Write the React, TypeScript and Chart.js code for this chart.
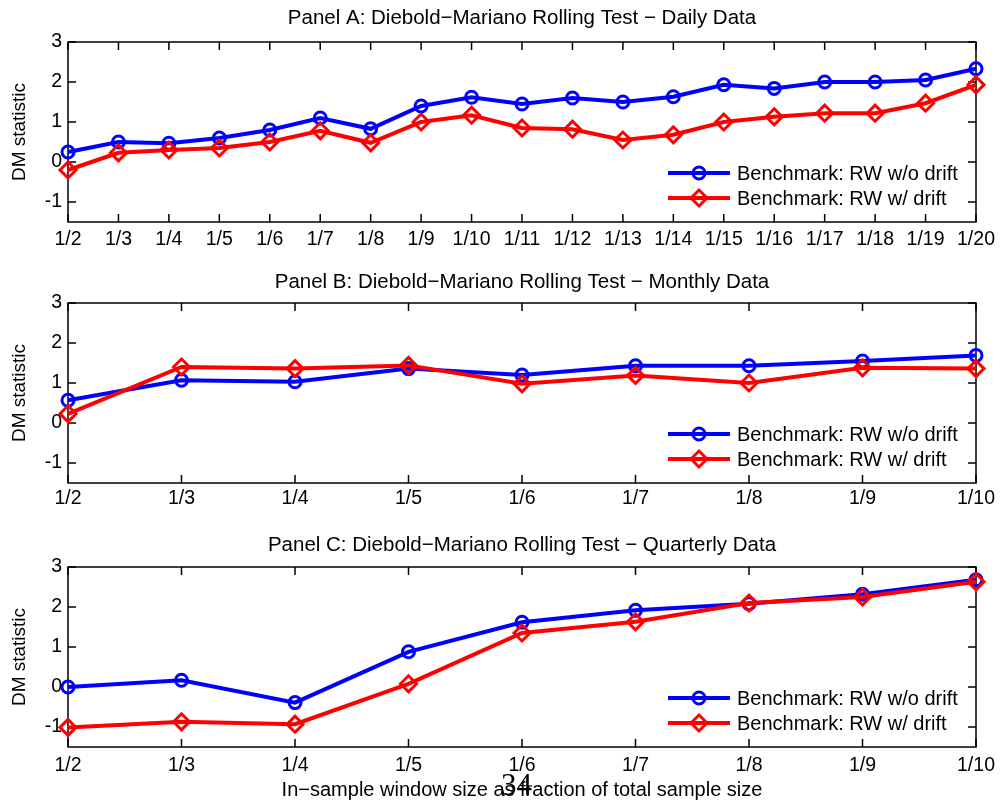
import { useEffect, useRef } from "react"
import { Chart, registerables } from "chart.js"

Chart.register(...registerables)

const FONT = '"Liberation Sans", Arial, Helvetica, sans-serif'
const TICK_LEN = 8

// x categories (in-sample window as fraction of the sample)
const dailyLabels = [
  "1/2", "1/3", "1/4", "1/5", "1/6", "1/7", "1/8", "1/9", "1/10", "1/11",
  "1/12", "1/13", "1/14", "1/15", "1/16", "1/17", "1/18", "1/19", "1/20",
]
const monthlyLabels = ["1/2", "1/3", "1/4", "1/5", "1/6", "1/7", "1/8", "1/9", "1/10"]
const quarterlyLabels = ["1/2", "1/3", "1/4", "1/5", "1/6", "1/7", "1/8", "1/9", "1/10"]

// DM statistics
const dailyNoDrift = [0.25, 0.5, 0.47, 0.6, 0.8, 1.1, 0.83, 1.4, 1.62, 1.45, 1.6, 1.5, 1.63, 1.93, 1.84, 2.0, 2.0, 2.05, 2.33]
const dailyDrift = [-0.2, 0.23, 0.3, 0.35, 0.5, 0.78, 0.48, 1.0, 1.17, 0.85, 0.82, 0.55, 0.68, 1.0, 1.13, 1.22, 1.22, 1.47, 1.93]
const monthlyNoDrift = [0.57, 1.07, 1.03, 1.36, 1.2, 1.43, 1.43, 1.55, 1.69]
const monthlyDrift = [0.23, 1.4, 1.36, 1.44, 0.98, 1.19, 1.0, 1.38, 1.36]
const quarterlyNoDrift = [0.0, 0.17, -0.39, 0.88, 1.62, 1.92, 2.08, 2.32, 2.68]
const quarterlyDrift = [-1.01, -0.87, -0.93, 0.08, 1.35, 1.63, 2.1, 2.25, 2.63]

const yTicks = [-1, 0, 1, 2, 3]
const seriesNames = ["Benchmark: RW w/o drift", "Benchmark: RW w/ drift"]

// MATLAB-style box with inward ticks on all four sides
const boxPlugin = {
  id: "matlabBox",
  beforeDatasetsDraw(chart: any) {
    const { ctx, chartArea: a, scales } = chart
    ctx.save()
    ctx.strokeStyle = "#000"
    ctx.lineWidth = 1.5
    ctx.strokeRect(a.left, a.top, a.right - a.left, a.bottom - a.top)
    ctx.beginPath()
    scales.x.ticks.forEach((_: any, i: number) => {
      const px = scales.x.getPixelForTick(i)
      ctx.moveTo(px, a.bottom)
      ctx.lineTo(px, a.bottom - TICK_LEN)
      ctx.moveTo(px, a.top)
      ctx.lineTo(px, a.top + TICK_LEN)
    })
    scales.y.ticks.forEach((t: any) => {
      const py = scales.y.getPixelForValue(t.value)
      ctx.moveTo(a.left, py)
      ctx.lineTo(a.left + TICK_LEN, py)
      ctx.moveTo(a.right, py)
      ctx.lineTo(a.right - TICK_LEN, py)
    })
    ctx.stroke()
    ctx.restore()
  },
}

// title centred over the axes box (not the whole canvas)
const titlePlugin = {
  id: "axesTitle",
  afterDraw(chart: any, _args: any, opts: any) {
    const { ctx, chartArea: a } = chart
    ctx.save()
    ctx.fillStyle = "#000"
    ctx.font = `20.5px ${FONT}`
    ctx.textAlign = "center"
    ctx.textBaseline = "middle"
    ctx.fillText(opts.text, (a.left + a.right) / 2, a.top - opts.offset)
    ctx.restore()
  },
}

// legend in the lower right corner of the axes
const legendPlugin = {
  id: "insideLegend",
  afterDatasetsDraw(chart: any) {
    const { ctx, chartArea: a } = chart
    ctx.save()
    chart.data.datasets.forEach((ds: any, i: number) => {
      const y = a.bottom - 49 + i * 25
      const x0 = a.right - 308
      const x1 = a.right - 246
      const cx = (x0 + x1) / 2
      ctx.strokeStyle = ds.borderColor
      ctx.lineWidth = ds.borderWidth
      ctx.beginPath()
      ctx.moveTo(x0, y)
      ctx.lineTo(x1, y)
      ctx.stroke()
      ctx.lineWidth = ds.pointBorderWidth
      ctx.beginPath()
      const r = ds.pointRadius
      if (ds.pointStyle === "rectRot") {
        ctx.moveTo(cx, y - r)
        ctx.lineTo(cx + r, y)
        ctx.lineTo(cx, y + r)
        ctx.lineTo(cx - r, y)
        ctx.closePath()
      } else {
        ctx.arc(cx, y, r, 0, Math.PI * 2)
      }
      ctx.stroke()
      ctx.fillStyle = "#000"
      ctx.font = `20px ${FONT}`
      ctx.textAlign = "left"
      ctx.textBaseline = "middle"
      ctx.fillText(ds.label, a.right - 239, y + 1)
    })
    ctx.restore()
  },
}

interface PanelProps {
  title: string
  labels: string[]
  noDrift: number[]
  drift: number[]
  top: number
  height: number
  areaTop: number
  titleOffset: number
  axisHeight: number
  tickPad: number
  xTitle?: string
}

function Panel({ title, labels, noDrift, drift, top, height, areaTop, titleOffset, axisHeight, tickPad, xTitle }: PanelProps) {
  const chartRef = useRef<HTMLCanvasElement>(null)
  const chartInstance = useRef<Chart | null>(null)

  useEffect(() => {
    if (!chartRef.current) return
    if (chartInstance.current) chartInstance.current.destroy()
    const ctx = chartRef.current.getContext("2d")
    if (!ctx) return

    const font = { family: FONT, size: 19.5, weight: "normal" as const }

    chartInstance.current = new Chart(ctx, {
      type: "line",
      data: {
        labels,
        datasets: [
          {
            label: seriesNames[0],
            data: noDrift,
            borderColor: "#0000ff",
            backgroundColor: "rgba(0,0,0,0)",
            borderWidth: 4,
            pointStyle: "circle",
            pointRadius: 6,
            pointBorderWidth: 3,
            pointBackgroundColor: "rgba(0,0,0,0)",
            tension: 0,
            clip: false,
            order: 1,
          },
          {
            label: seriesNames[1],
            data: drift,
            borderColor: "#ff0000",
            backgroundColor: "rgba(0,0,0,0)",
            borderWidth: 4,
            pointStyle: "rectRot",
            pointRadius: 8,
            pointBorderWidth: 3,
            pointBackgroundColor: "rgba(0,0,0,0)",
            tension: 0,
            clip: false,
            order: 0,
          },
        ],
      },
      options: {
        animation: false,
        responsive: true,
        maintainAspectRatio: false,
        events: [],
        layout: { padding: { left: 0, right: 24, top: areaTop, bottom: 0 } },
        plugins: {
          legend: { display: false },
          tooltip: { enabled: false },
          title: { display: false },
          axesTitle: { text: title, offset: titleOffset },
        } as any,
        scales: {
          x: {
            type: "category",
            grid: { display: false, drawTicks: false },
            border: { display: false },
            ticks: { color: "#000", font, padding: tickPad, autoSkip: false, maxRotation: 0 },
            title: xTitle
              ? { display: true, text: xTitle, color: "#000", font: { ...font, size: 20 }, padding: { top: 0, bottom: 0 } }
              : { display: false },
            afterFit: (s: any) => {
              s.height = axisHeight
              s.paddingLeft = 0
              s.paddingRight = 0
            },
          },
          y: {
            min: -1.5,
            max: 3,
            grid: { display: false, drawTicks: false },
            border: { display: false },
            ticks: { color: "#000", font, padding: 6 },
            afterBuildTicks: (s: any) => {
              s.ticks = yTicks.map((v) => ({ value: v }))
            },
            title: {
              display: true,
              text: "DM statistic",
              color: "#000",
              font: { ...font, size: 19 },
              padding: { top: 8.6, bottom: 0 },
            },
            afterFit: (s: any) => {
              s.width = 68
              s.paddingTop = 0
              s.paddingBottom = 0
            },
          },
        },
      },
      plugins: [boxPlugin, legendPlugin, titlePlugin],
    })

    return () => {
      if (chartInstance.current) {
        chartInstance.current.destroy()
        chartInstance.current = null
      }
    }
  }, [title, labels, noDrift, drift, areaTop, titleOffset, axisHeight, tickPad, xTitle])

  return (
    <div style={{ position: "absolute", left: 0, top, width: 1000, height }}>
      <canvas ref={chartRef} />
    </div>
  )
}

export default function App() {
  return (
    <div style={{ position: "absolute", left: 0, top: 0, width: 1000, height: 802, background: "#fff" }}>
      <Panel
        title="Panel A: Diebold−Mariano Rolling Test − Daily Data"
        labels={dailyLabels}
        noDrift={dailyNoDrift}
        drift={dailyDrift}
        top={0}
        height={260}
        areaTop={42}
        titleOffset={24}
        axisHeight={38}
        tickPad={5.6}
      />
      <Panel
        title="Panel B: Diebold−Mariano Rolling Test − Monthly Data"
        labels={monthlyLabels}
        noDrift={monthlyNoDrift}
        drift={monthlyDrift}
        top={260}
        height={260}
        areaTop={43}
        titleOffset={21}
        axisHeight={37}
        tickPad={3.6}
      />
      <Panel
        title="Panel C: Diebold−Mariano Rolling Test − Quarterly Data"
        labels={quarterlyLabels}
        noDrift={quarterlyNoDrift}
        drift={quarterlyDrift}
        top={522}
        height={280}
        areaTop={45}
        titleOffset={22}
        axisHeight={55}
        tickPad={6.6}
        xTitle="In−sample window size as fraction of total sample size"
      />
      <div
        style={{
          position: "absolute",
          left: 501,
          top: 769,
          fontFamily: '"Liberation Serif", "DejaVu Serif", serif',
          fontSize: 31,
          lineHeight: "31px",
          color: "#000",
        }}
      >
        34
      </div>
    </div>
  )
}
